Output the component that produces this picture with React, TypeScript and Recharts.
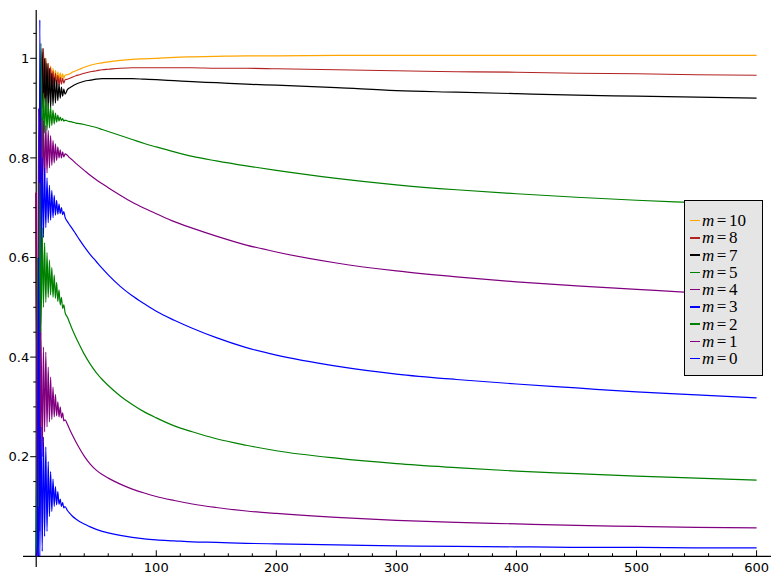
import React from 'react';
import { LineChart, Line, XAxis, YAxis, ReferenceLine, Legend } from 'recharts';

// x positions (early integer steps, then sparser samples)
const earlyX = [0, 1, 2, 3, 4, 5, 6, 7, 8, 9, 10, 11, 12, 13, 14, 15, 16, 17, 18, 19, 20, 21, 22, 23, 24];
const lateX = [26, 28, 30, 33, 36, 40, 45, 50, 55, 60, 70, 80, 90, 100, 115, 130, 150, 175, 200, 250, 300, 350, 400, 450, 500, 550, 600];

// series values
const m10Early = [0.73, 0.0, 0.8, 0.6, 1.0, 0.92, 1.01, 0.935, 1.0, 0.94, 0.99, 0.945, 0.985, 0.948, 0.98, 0.95, 0.976, 0.953, 0.973, 0.956, 0.971, 0.958, 0.969, 0.96, 0.966];
const m10Late = [0.967, 0.969, 0.972, 0.975, 0.978, 0.982, 0.986, 0.989, 0.991, 0.993, 0.996, 0.998, 0.999, 1.0, 1.002, 1.003, 1.004, 1.005, 1.005, 1.006, 1.006, 1.006, 1.006, 1.006, 1.006, 1.006, 1.006];

const m8Early = [0.73, 0.0, 0.7, 0.5, 0.95, 0.9, 1.02, 0.92, 1.0, 0.925, 0.99, 0.93, 0.982, 0.935, 0.975, 0.94, 0.97, 0.943, 0.966, 0.946, 0.962, 0.948, 0.96, 0.95, 0.957];
const m8Late = [0.958, 0.96, 0.962, 0.965, 0.967, 0.97, 0.973, 0.975, 0.977, 0.978, 0.98, 0.981, 0.981, 0.981, 0.981, 0.981, 0.98, 0.98, 0.979, 0.977, 0.975, 0.973, 0.972, 0.97, 0.969, 0.967, 0.966];

const m7Early = [0.73, 0.0, 0.6, 0.3, 0.9, 1.02, 0.88, 1.0, 0.89, 0.99, 0.895, 0.98, 0.9, 0.97, 0.905, 0.962, 0.91, 0.955, 0.915, 0.948, 0.92, 0.942, 0.924, 0.938, 0.928];
const m7Late = [0.937, 0.941, 0.944, 0.948, 0.951, 0.954, 0.956, 0.958, 0.959, 0.959, 0.959, 0.959, 0.958, 0.957, 0.955, 0.953, 0.951, 0.948, 0.946, 0.941, 0.935, 0.932, 0.929, 0.926, 0.924, 0.922, 0.92];

const m5Early = [0.0, 0.4, 0.2, 0.8, 1.03, 0.8, 0.93, 0.85, 0.92, 0.855, 0.91, 0.86, 0.902, 0.865, 0.896, 0.868, 0.89, 0.872, 0.886, 0.874, 0.882, 0.875, 0.879, 0.874, 0.876];
const m5Late = [0.874, 0.873, 0.872, 0.87, 0.869, 0.867, 0.864, 0.861, 0.857, 0.853, 0.845, 0.837, 0.829, 0.822, 0.812, 0.803, 0.794, 0.784, 0.775, 0.759, 0.746, 0.736, 0.728, 0.721, 0.715, 0.71, 0.705];

const m4Early = [0.73, 0.1, 0.9, 0.4, 0.88, 0.7, 0.875, 0.75, 0.865, 0.77, 0.855, 0.78, 0.845, 0.785, 0.835, 0.79, 0.828, 0.795, 0.822, 0.8, 0.816, 0.8, 0.812, 0.802, 0.808];
const m4Late = [0.805, 0.8, 0.796, 0.789, 0.783, 0.775, 0.765, 0.756, 0.748, 0.74, 0.725, 0.711, 0.699, 0.688, 0.672, 0.659, 0.643, 0.625, 0.611, 0.589, 0.573, 0.561, 0.551, 0.543, 0.536, 0.529, 0.523];

const m3Early = [0.0, 0.3, 0.0, 1.077, 0.55, 0.8, 0.64, 0.78, 0.66, 0.76, 0.67, 0.745, 0.675, 0.735, 0.68, 0.725, 0.685, 0.715, 0.687, 0.707, 0.688, 0.7, 0.686, 0.692, 0.681];
const m3Late = [0.672, 0.665, 0.658, 0.647, 0.636, 0.622, 0.606, 0.592, 0.578, 0.565, 0.542, 0.523, 0.507, 0.492, 0.474, 0.458, 0.439, 0.419, 0.404, 0.382, 0.366, 0.355, 0.346, 0.338, 0.33, 0.324, 0.318];

const m2Early = [0.0, 0.6, 0.1, 0.75, 0.45, 0.66, 0.5, 0.63, 0.51, 0.61, 0.52, 0.595, 0.525, 0.58, 0.52, 0.565, 0.518, 0.55, 0.512, 0.535, 0.505, 0.52, 0.498, 0.505, 0.49];
const m2Late = [0.48, 0.468, 0.456, 0.44, 0.425, 0.406, 0.386, 0.369, 0.355, 0.343, 0.322, 0.305, 0.29, 0.278, 0.262, 0.25, 0.236, 0.223, 0.212, 0.197, 0.186, 0.178, 0.171, 0.166, 0.161, 0.157, 0.153];

const m1Early = [0.73, 0.0, 0.5, 0.05, 0.45, 0.2, 0.42, 0.25, 0.41, 0.26, 0.38, 0.27, 0.36, 0.275, 0.34, 0.28, 0.325, 0.282, 0.31, 0.28, 0.3, 0.278, 0.288, 0.272, 0.274];
const m1Late = [0.265, 0.254, 0.244, 0.23, 0.217, 0.201, 0.185, 0.173, 0.164, 0.157, 0.145, 0.135, 0.127, 0.12, 0.112, 0.105, 0.098, 0.091, 0.086, 0.078, 0.072, 0.068, 0.065, 0.062, 0.06, 0.058, 0.057];

const m0Early = [0.0, 0.02, 0.6, 0.0, 0.26, 0.01, 0.24, 0.04, 0.22, 0.05, 0.19, 0.08, 0.17, 0.09, 0.155, 0.1, 0.14, 0.103, 0.13, 0.104, 0.115, 0.1, 0.108, 0.097, 0.1];
const m0Late = [0.092, 0.086, 0.081, 0.075, 0.07, 0.065, 0.059, 0.054, 0.05, 0.047, 0.042, 0.038, 0.035, 0.033, 0.031, 0.029, 0.028, 0.026, 0.025, 0.023, 0.021, 0.02, 0.019, 0.018, 0.018, 0.017, 0.017];

const seriesNames = ['10', '8', '7', '5', '4', '3', '2', '1', '0'];
const seriesColors = ['#ffa500', '#b22222', '#000000', '#008000', '#800080', '#0000ff', '#008000', '#800080', '#0000ff'];
const seriesEarly = [m10Early, m8Early, m7Early, m5Early, m4Early, m3Early, m2Early, m1Early, m0Early];
const seriesLate = [m10Late, m8Late, m7Late, m5Late, m4Late, m3Late, m2Late, m1Late, m0Late];

const xTicks = [20, 40, 60, 80, 100, 120, 140, 160, 180, 200, 220, 240, 260, 280, 300, 320, 340, 360, 380, 400, 420, 440, 460, 480, 500, 520, 540, 560, 580, 600];
const yTicks = [0.05, 0.1, 0.15, 0.2, 0.25, 0.3, 0.35, 0.4, 0.45, 0.5, 0.55, 0.6, 0.65, 0.7, 0.75, 0.8, 0.85, 0.9, 0.95, 1.0, 1.05];
const yLabels: Record<string, string> = { '0.2': '0.2', '0.4': '0.4', '0.6': '0.6', '0.8': '0.8', '1': '1' };

const W = 781;
const H = 582;
// plot area edges
const PT = 10;
const PR = 10;
const PB = 15;
const PL = 23;
const X_DOMAIN: [number, number] = [-11, 612];
const Y_DOMAIN: [number, number] = [-0.0215, 1.097];

const plotW = W - PL - PR;
const plotH = H - PT - PB;
const X0 = PL + (plotW * (0 - X_DOMAIN[0])) / (X_DOMAIN[1] - X_DOMAIN[0]);
const Y0 = PT + (plotH * (Y_DOMAIN[1] - 0)) / (Y_DOMAIN[1] - Y_DOMAIN[0]);

const allX = [...earlyX, ...lateX];
const seriesData = seriesEarly.map((e, i) => {
  const vals = [...e, ...seriesLate[i]];
  return allX.map((x, j) => ({ x, y: vals[j] }));
});

const XTick = (props: any) => {
  const { x, payload } = props;
  const v = payload.value;
  const major = Math.abs(v % 100) < 1e-9;
  return (
    <g>
      <line x1={x} x2={x} y1={Y0} y2={Y0 - (major ? 6 : 3)} stroke="#000" strokeWidth={1} />
      {major && (
        <text x={x} y={Y0 + 15.4} textAnchor="middle" fontFamily="DejaVu Sans" fontSize={13} fill="#000">
          {String(v)}
        </text>
      )}
    </g>
  );
};

const YTick = (props: any) => {
  const { y, payload } = props;
  const v = Math.round(payload.value * 100) / 100;
  const label = yLabels[String(v)];
  const major = label !== undefined;
  return (
    <g>
      <line x1={X0} x2={X0 - (major ? 6 : 3)} y1={y} y2={y} stroke="#000" strokeWidth={1} />
      {major && (
        <text x={X0 - 7} y={y + 4.7} textAnchor="end" fontFamily="DejaVu Sans" fontSize={13} fill="#000">
          {label}
        </text>
      )}
    </g>
  );
};

const LegendBox = () => (
  <div
    style={{
      position: 'absolute',
      left: 684,
      top: 200,
      width: 79,
      height: 176,
      boxSizing: 'border-box',
      border: '1px solid #000',
      background: '#e5e5e5',
      paddingTop: 11,
    }}
  >
    {seriesNames.map((n, i) => (
      <div key={i} style={{ display: 'flex', alignItems: 'center', height: 17.25, whiteSpace: 'nowrap' }}>
        <div style={{ width: 10, height: 1.3, background: seriesColors[i], marginLeft: 5, marginRight: 2 }} />
        <span style={{ fontFamily: '"Liberation Serif", serif', fontSize: 17, lineHeight: '17px', color: '#000' }}>
          <i>m</i>
          <span style={{ margin: '0 2.5px' }}>=</span>
          {n}
        </span>
      </div>
    ))}
  </div>
);

export default function App() {
  return (
    <div style={{ position: 'absolute', left: 0, top: 0, width: W, height: H, background: '#fff' }}>
      <style>{`body{margin:0}`}</style>
      <LineChart width={W} height={H} margin={{ top: PT, right: PR, bottom: PB - 1, left: PL - 1 }}>
        <XAxis
          dataKey="x"
          type="number"
          domain={X_DOMAIN}
          allowDataOverflow
          ticks={xTicks}
          interval={0}
          height={1}
          axisLine={false}
          tickLine={false}
          tickSize={0}
          tick={XTick}
        />
        <YAxis
          type="number"
          domain={Y_DOMAIN}
          allowDataOverflow
          ticks={yTicks}
          interval={0}
          width={1}
          axisLine={false}
          tickLine={false}
          tickSize={0}
          tick={YTick}
        />
        <ReferenceLine x={0} stroke="#000" strokeWidth={1.2} />
        <ReferenceLine y={0} stroke="#000" strokeWidth={1.2} />
        {seriesData.map((d, i) => (
          <Line
            key={i}
            data={d}
            dataKey="y"
            name={`m=${seriesNames[i]}`}
            type="monotone"
            stroke={seriesColors[i]}
            strokeWidth={1.2}
            dot={false}
            activeDot={false}
            isAnimationActive={false}
          />
        ))}
        <Legend content={() => null} />
      </LineChart>
      <LegendBox />
    </div>
  );
}
